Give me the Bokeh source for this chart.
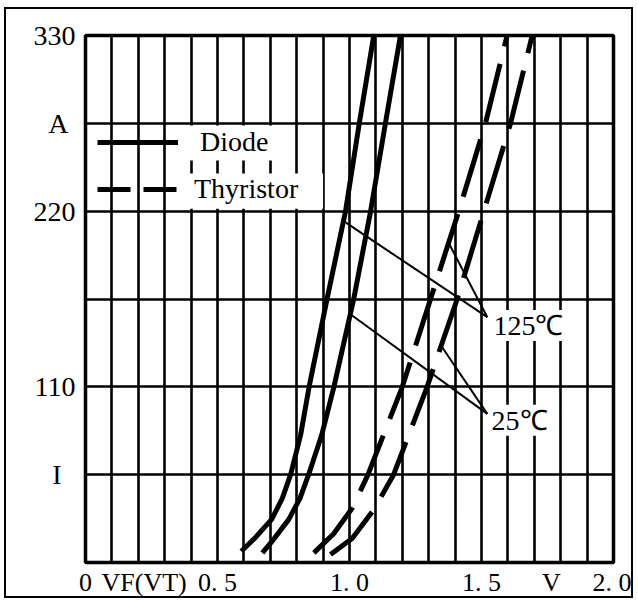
from bokeh.plotting import figure
from bokeh.models import Range1d, FixedTicker, Legend, LegendItem, Label, BoxAnnotation
from bokeh.embed import file_html
from bokeh.resources import INLINE

# ---------------- data ----------------
diode_125_v = [0.59, 0.64, 0.705, 0.745, 0.777, 0.815, 0.847, 0.915, 0.985, 1.037, 1.092]
diode_125_i = [7, 15, 27, 40, 55, 80, 110, 165, 220, 275, 330]
diode_25_v = [0.67, 0.715, 0.77, 0.812, 0.845, 0.895, 0.941, 1.016, 1.08, 1.136, 1.193]
diode_25_i = [6, 15, 27, 40, 55, 80, 110, 165, 220, 275, 330]
thy_125_v = [0.865, 0.94, 1.01, 1.07, 1.2, 1.307, 1.414, 1.515, 1.597]
thy_125_i = [6, 18, 34, 55, 110, 165, 220, 275, 330]
thy_25_v = [0.928, 1.01, 1.092, 1.167, 1.294, 1.408, 1.509, 1.61, 1.692]
thy_25_i = [5, 15, 33, 55, 110, 165, 220, 275, 330]

x_ticks = [0, 0.222, 0.5, 1.0, 1.5, 1.765, 2.0]
x_tick_labels = ["0", "VF(VT)", "0. 5", "1. 0", "1. 5", "V", "2. 0"]
y_ticks = [55, 110, 165, 220, 275, 330]
y_tick_labels = ["I\u2007", "110", "", "220", "A\u2008", "330"]
x_grid = [0.1 * k for k in range(1, 20)]
y_grid = [55, 110, 165, 220, 275]

# leader lines: (from V, from I) -> label point
lead_125_from_v = [0.985, 1.376]
lead_125_from_i = [213, 200]
lead_125_to = (1.522, 153.6)
lead_25_from_v = [1.01, 1.351]
lead_25_from_i = [154.7, 134.8]
lead_25_to = (1.522, 93.1)

FONT = "Liberation Serif"
FS = "28px"
NAN = float("nan")

W, H = 629, 591
p = figure(width=W, height=H, output_backend="svg", toolbar_location=None,
           x_range=Range1d(0, 2.0), y_range=Range1d(0, 330),
           min_border_left=79, min_border_right=22, min_border_top=26, min_border_bottom=38,
           styles={"border": "2px solid black", "margin-left": "4px", "margin-top": "7px"})
p.background_fill_color = "white"
p.border_fill_color = "white"
p.outline_line_color = "black"
p.outline_line_width = 3.5

# grid
p.xgrid.ticker = FixedTicker(ticks=x_grid)
p.ygrid.ticker = FixedTicker(ticks=y_grid)
for g in (p.xgrid, p.ygrid):
    g.grid_line_color = "black"
    g.grid_line_width = 2.6
    g.grid_line_alpha = 1.0

# axes
p.xaxis.ticker = FixedTicker(ticks=x_ticks)
p.xaxis.major_label_overrides = {t: s for t, s in zip(x_ticks, x_tick_labels)}
p.yaxis.ticker = FixedTicker(ticks=y_ticks)
p.yaxis.major_label_overrides = {t: s for t, s in zip(y_ticks, y_tick_labels)}
for ax in (p.xaxis, p.yaxis):
    ax.axis_line_color = None
    ax.major_tick_line_color = None
    ax.minor_tick_line_color = None
    ax.major_tick_out = 0
    ax.major_tick_in = 0
    ax.minor_tick_out = 0
    ax.minor_tick_in = 0
    ax.major_label_text_font = FONT
    ax.major_label_text_color = "black"
p.yaxis.major_label_text_font_size = FS
p.xaxis.major_label_text_font_size = "26px"
p.xaxis.major_label_standoff = 5
p.yaxis.major_label_standoff = 10

# curves
kw = dict(line_color="black", line_width=5, line_join="round")
p.line(diode_125_v, diode_125_i, **kw)
p.line(diode_25_v, diode_25_i, **kw)
p.line(thy_125_v, thy_125_i, line_dash="60 18", line_cap="butt", **kw)
p.line(thy_25_v, thy_25_i, line_dash="60 18", line_cap="butt", **kw)

# leader lines
p.segment(x0=lead_125_from_v, y0=lead_125_from_i,
          x1=[lead_125_to[0]] * 2, y1=[lead_125_to[1]] * 2, line_color="black", line_width=2)
p.segment(x0=lead_25_from_v, y0=lead_25_from_i,
          x1=[lead_25_to[0]] * 2, y1=[lead_25_to[1]] * 2, line_color="black", line_width=2)

# white boxes behind legend texts
p.add_layout(BoxAnnotation(left=0.39, right=0.76, bottom=251.7, top=273.6,
                           fill_color="white", fill_alpha=1, line_alpha=0))
p.add_layout(BoxAnnotation(left=0.39, right=0.90, bottom=221.5, top=243.6,
                           fill_color="white", fill_alpha=1, line_alpha=0))

# legend sample renderers (no visible data)
r_solid = p.line(x=[NAN], y=[NAN], line_color="black", line_width=5)
r_dash = p.line(x=[NAN], y=[NAN], line_color="black", line_width=5, line_dash="33 13", line_cap="butt")

def mk_legend(label, r, loc, standoff):
    return Legend(items=[LegendItem(label=label, renderers=[r])], location=loc,
                  glyph_width=81, glyph_height=20, label_standoff=standoff,
                  padding=0, margin=0, spacing=0,
                  background_fill_alpha=0, border_line_alpha=0,
                  label_text_font=FONT, label_text_font_size=FS, label_text_color="black")

p.add_layout(mk_legend("Diode", r_solid, (12, 404), 22), "center")
p.add_layout(mk_legend("Thyristor", r_dash, (12, 357), 16), "center")

# temperature labels
for txt, x, y in [("125\u2103", 1.545, 148.4), ("25\u2103", 1.538, 89.0)]:
    p.add_layout(Label(x=x, y=y, text=txt, text_font=FONT, text_font_size=FS,
                       text_color="black", text_baseline="middle", text_align="left",
                       background_fill_color="white", background_fill_alpha=1.0))

open("out.html", "w").write(file_html(p, INLINE))
